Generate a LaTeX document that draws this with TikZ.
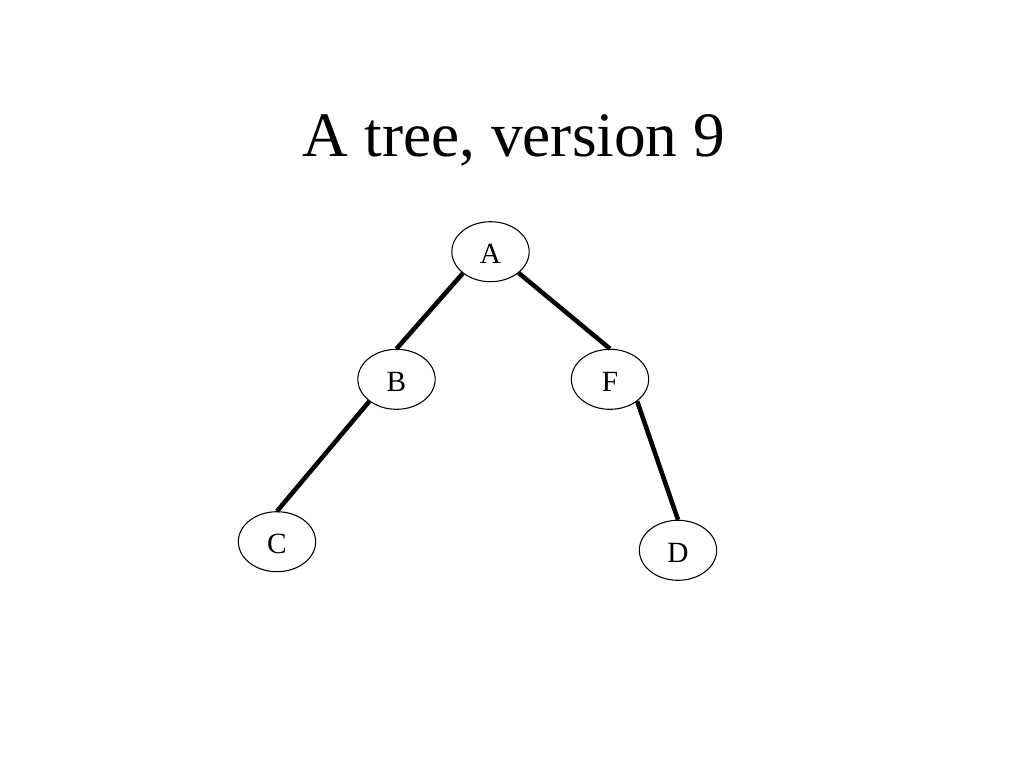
\documentclass[tikz,border=0pt]{standalone}
\usepackage{fontspec}
\setmainfont{Liberation Serif}
\usetikzlibrary{shapes.geometric}
\begin{document}
\begin{tikzpicture}[x=0.75pt,y=-0.75pt]
\tikzset{
  treenode/.style={draw, ellipse, line width=0.8pt, inner sep=0pt,
    minimum width=58pt, minimum height=45pt, font=\fontsize{22pt}{26pt}\selectfont,
    text height=18.3pt},
  edge/.style={line width=3.4pt}
}
\useasboundingbox (0,0) rectangle (1024,768);
\fill[white] (0,0) rectangle (1024,768);
\node[anchor=base, font=\fontsize{47.5pt}{56pt}\selectfont] (title) at (514,156.7) {A tree, version 9};
\node[treenode] (A) at (490.5,251.7) {A};
\node[treenode] (B) at (396.5,379.3) {B};
\node[treenode] (F) at (610,379.3) {F};
\node[treenode] (C) at (277,541.7) {C};
\node[treenode] (D) at (678,550.3) {D};
\draw[edge] (A.218) -- (B.north);
\draw[edge] (A.323) -- (F.north);
\draw[edge] (B.219) -- (C.north);
\draw[edge] (F.321) -- (D.north);
\end{tikzpicture}
\end{document}
